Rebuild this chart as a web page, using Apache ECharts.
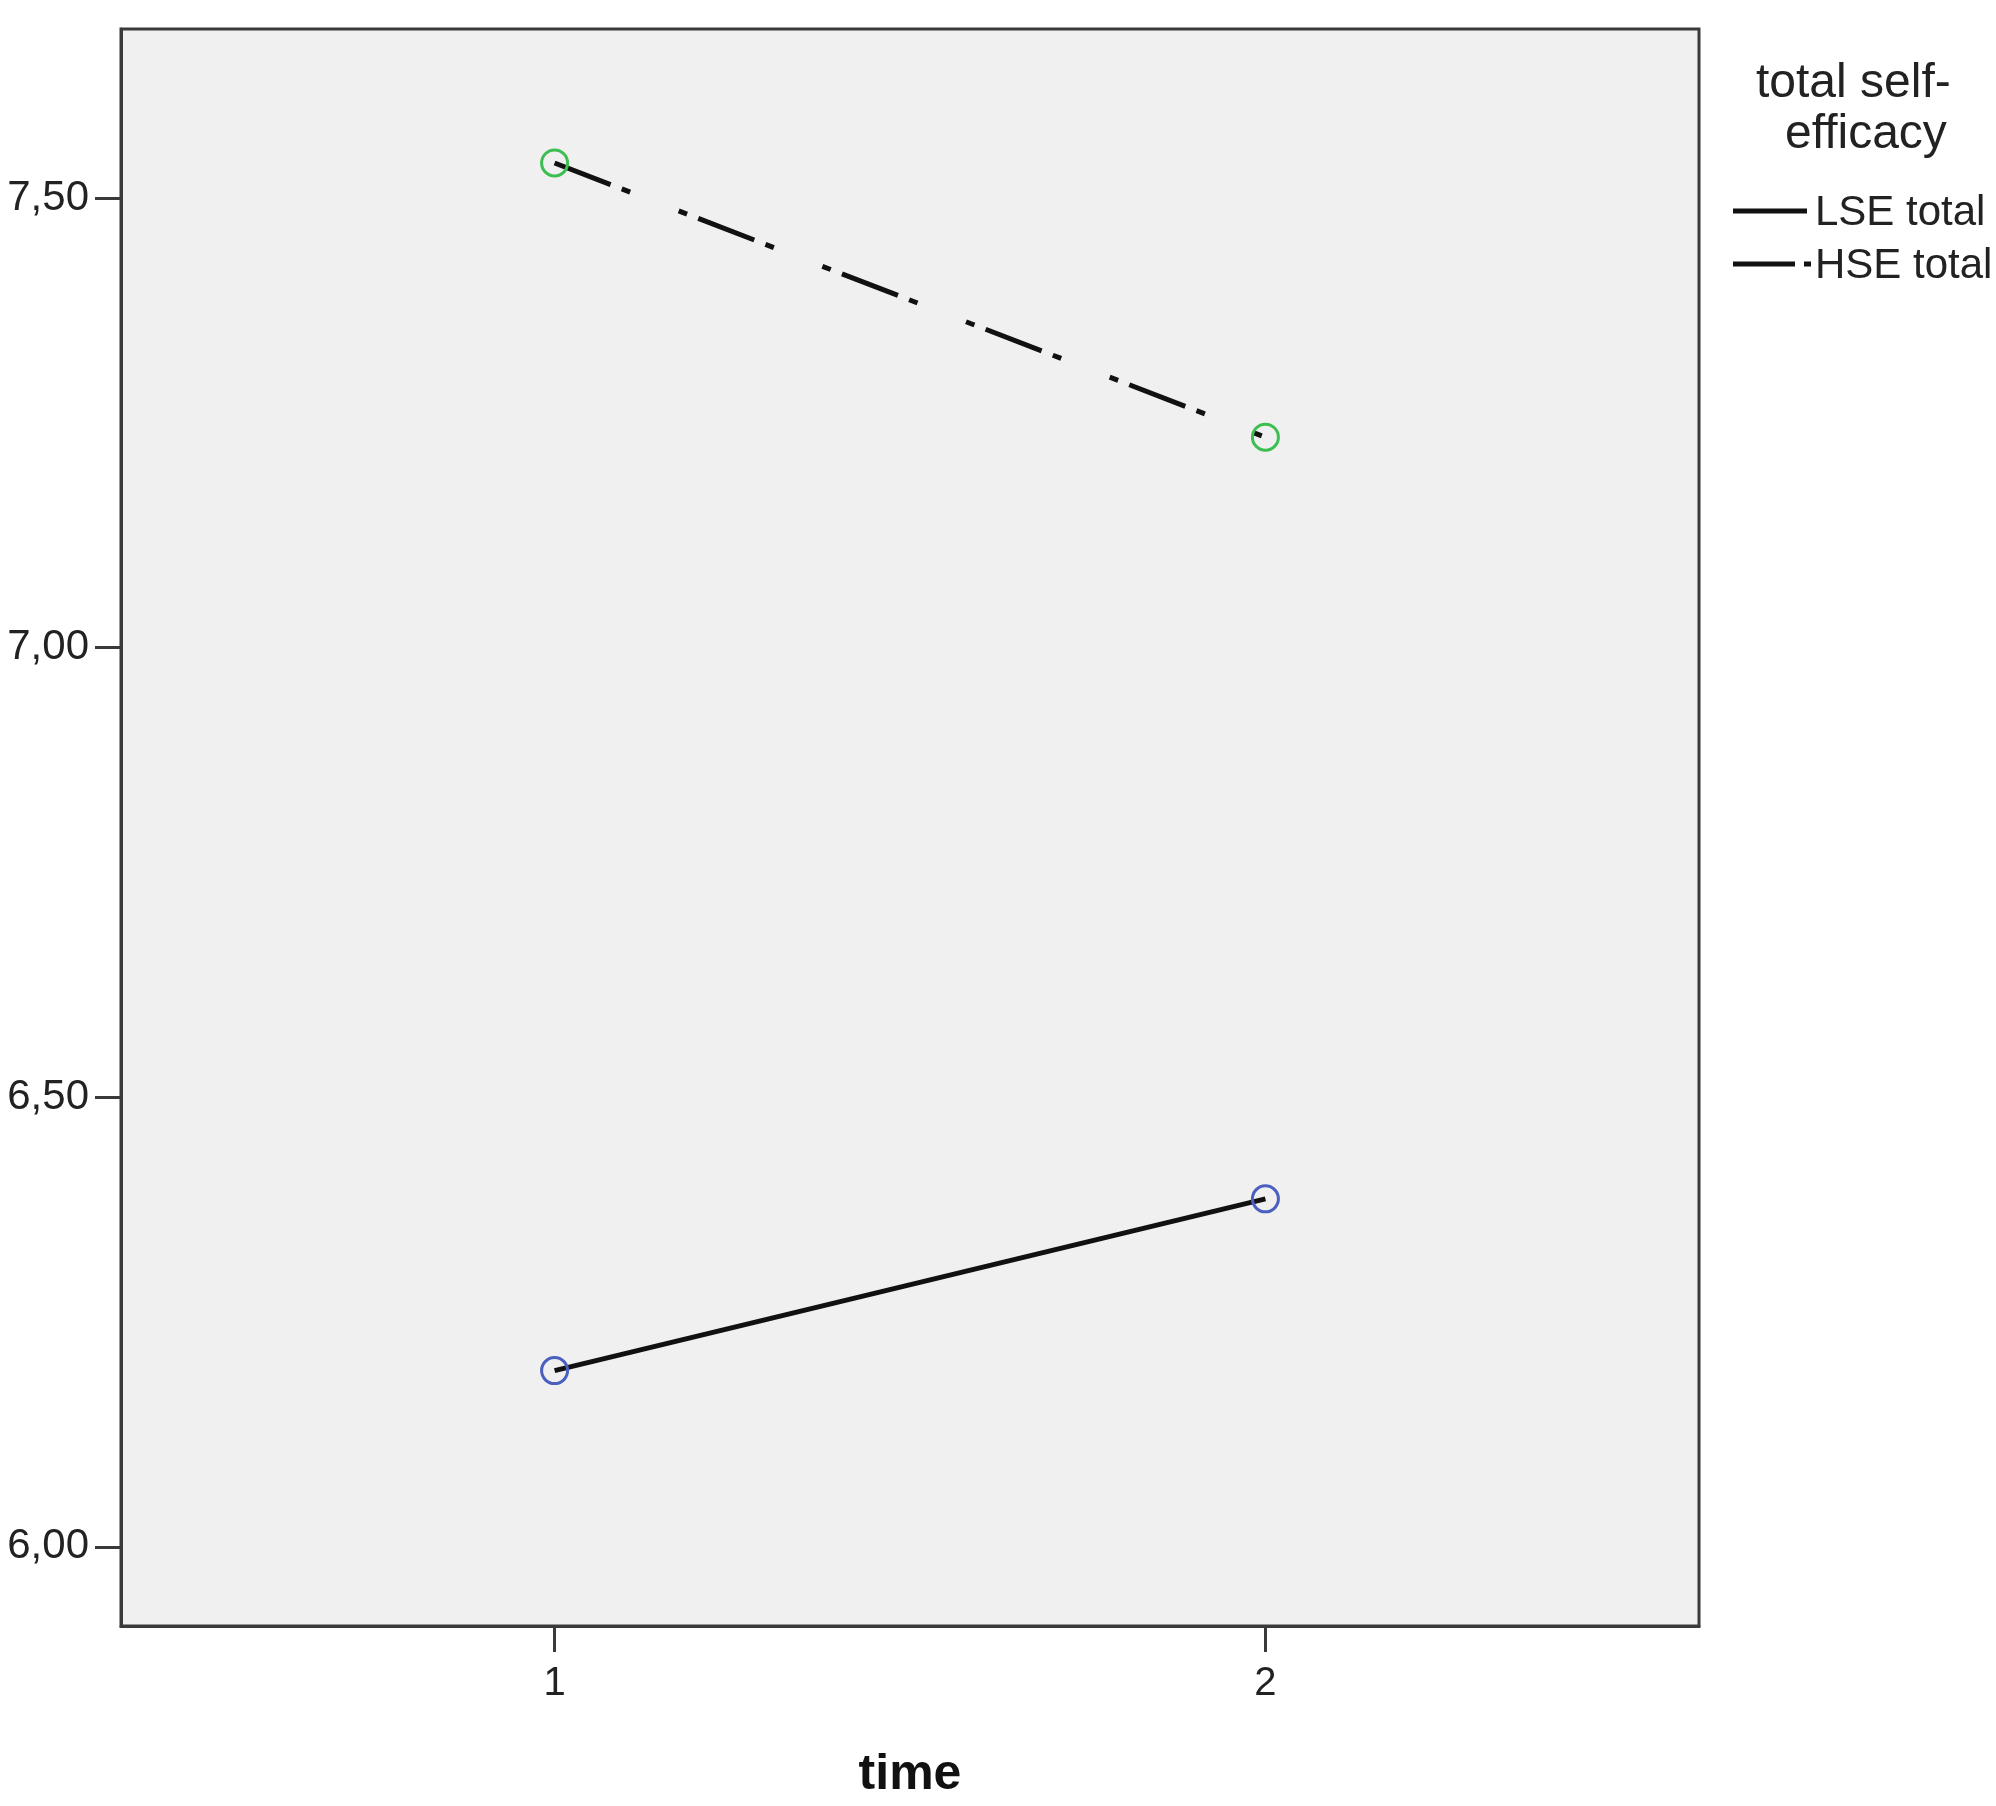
<!DOCTYPE html>
<html>
<head>
<meta charset="utf-8">
<script src="https://cdn.jsdelivr.net/npm/echarts@6/dist/echarts.min.js"></script>
<style>
html,body{margin:0;padding:0;background:#fff;}
#chart{width:1996px;height:1806px;}
</style>
</head>
<body>
<div id="chart"></div>
<script>
// ---- data ----
const timePoints = [1, 2];
const seriesNames = ['LSE total', 'HSE total'];
const lseValues = [6.196, 6.387];
const hseValues = [7.539, 7.234];
const yTickValues = [6.0, 6.5, 7.0, 7.5];
const yTickLabels = ['6,00', '6,50', '7,00', '7,50'];
const xTickLabels = ['1', '2'];
const legendTitleLines = ['total self-', 'efficacy'];
const xAxisTitle = 'time';

// ---- styles ----
const FONT = '"Liberation Sans", Arial, sans-serif';
const AXIS_COLOR = '#3a3a3a';
const TEXT_COLOR = '#222222';
const markerColors = ['#4a5fc0', '#3cbf50'];
const dashPattern = [60, 12, 9, 52, 9, 12];

const chart = echarts.init(document.getElementById('chart'), null, {renderer: 'canvas'});

function pairs(vals) { return timePoints.map((t, i) => [t, vals[i]]); }

const option = {
  animation: false,
  backgroundColor: '#ffffff',
  grid: {
    left: 121, right: 297, top: 29, bottom: 180,
    show: true, backgroundColor: '#f0f0f0',
    borderColor: AXIS_COLOR, borderWidth: 3
  },
  xAxis: {
    type: 'value', min: 0.39, max: 2.61,
    name: xAxisTitle, nameLocation: 'middle', nameGap: 124,
    nameTextStyle: {fontFamily: FONT, fontSize: 50, fontWeight: 'bold', color: '#111'},
    axisLine: {show: true, lineStyle: {color: AXIS_COLOR, width: 3}},
    axisTick: {show: true, length: 26, lineStyle: {color: AXIS_COLOR, width: 3}, customValues: timePoints},
    axisLabel: {
      margin: 38, fontFamily: FONT, fontSize: 40, color: TEXT_COLOR,
      customValues: timePoints,
      formatter: v => xTickLabels[timePoints.indexOf(v)] ?? ''
    },
    splitLine: {show: false}
  },
  yAxis: {
    type: 'value', min: 5.912, max: 7.688,
    axisLine: {show: true, lineStyle: {color: AXIS_COLOR, width: 3}},
    axisTick: {show: true, length: 26, lineStyle: {color: AXIS_COLOR, width: 3}, customValues: yTickValues},
    axisLabel: {
      margin: 32, fontFamily: FONT, fontSize: 42, color: TEXT_COLOR,
      customValues: yTickValues,
      formatter: v => {
        const i = yTickValues.findIndex(t => Math.abs(t - v) < 1e-6);
        return i >= 0 ? yTickLabels[i] : '';
      }
    },
    splitLine: {show: false}
  },
  series: [
    {
      name: seriesNames[0], type: 'line', data: pairs(lseValues),
      symbol: 'circle', symbolSize: 26,
      itemStyle: {color: 'rgba(0,0,0,0)', borderColor: markerColors[0], borderWidth: 3},
      lineStyle: {color: '#111', width: 5},
      z: 3
    },
    {
      name: seriesNames[1], type: 'line', data: pairs(hseValues),
      symbol: 'circle', symbolSize: 26,
      itemStyle: {color: 'rgba(0,0,0,0)', borderColor: markerColors[1], borderWidth: 3},
      lineStyle: {color: '#111', width: 5, type: dashPattern, cap: 'butt'},
      z: 3
    }
  ],
  graphic: [
    {type: 'text', left: 1861 - 105, top: 60, style: {text: legendTitleLines[0], font: '48px ' + FONT, fill: TEXT_COLOR, textAlign: 'left'}},
    {type: 'text', left: 1867 - 82, top: 111, style: {text: legendTitleLines[1], font: '48px ' + FONT, fill: TEXT_COLOR, textAlign: 'left'}},
    {type: 'line', shape: {x1: 1733, y1: 211, x2: 1807, y2: 211}, style: {stroke: '#111', lineWidth: 5}},
    {type: 'text', x: 1815, y: 213, style: {text: seriesNames[0], font: '42px ' + FONT, fill: TEXT_COLOR, textVerticalAlign: 'middle'}},
    {type: 'line', shape: {x1: 1733, y1: 264, x2: 1812, y2: 264}, style: {stroke: '#111', lineWidth: 5, lineDash: [62, 9, 7, 100], lineCap: 'butt'}},
    {type: 'text', x: 1815, y: 266, style: {text: seriesNames[1], font: '42px ' + FONT, fill: TEXT_COLOR, textVerticalAlign: 'middle'}}
  ]
};
chart.setOption(option);
</script>
</body>
</html>
